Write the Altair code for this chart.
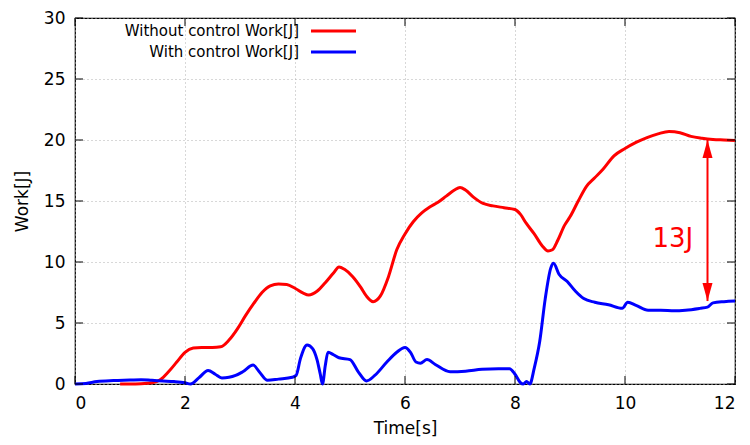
import altair as alt
import pandas as pd

# ---- data ----
red_name = "Without control Work[J]"
blue_name = "With control Work[J]"

red_t = [0.82, 1.0, 1.2, 1.4, 1.55, 1.7, 1.85, 2.0, 2.15, 2.3, 2.5, 2.65, 2.8, 2.95, 3.1, 3.25,
         3.4, 3.55, 3.7, 3.85, 4.0, 4.15, 4.25, 4.4, 4.55, 4.7, 4.8, 4.9, 5.05, 5.2, 5.3, 5.42,
         5.55, 5.7, 5.85, 6.0, 6.15, 6.3, 6.45, 6.6, 6.75, 6.9, 7.0, 7.1, 7.25, 7.42, 7.6, 7.8,
         8.0, 8.1, 8.2, 8.35, 8.5, 8.6, 8.68, 8.78, 8.9, 9.0, 9.15, 9.3, 9.45, 9.6, 9.8, 10.0,
         10.2, 10.4, 10.6, 10.8, 11.0, 11.2, 11.4, 11.6, 11.8, 12.0]
red_v = [0.0, 0.0, 0.02, 0.1, 0.35, 1.0, 1.8, 2.6, 2.95, 3.0, 3.0, 3.05, 3.6, 4.5, 5.6, 6.6,
         7.5, 8.05, 8.2, 8.15, 7.85, 7.45, 7.3, 7.6, 8.3, 9.1, 9.6, 9.4, 8.8, 7.9, 7.2, 6.75,
         7.2, 8.8, 11.0, 12.3, 13.3, 14.0, 14.5, 14.9, 15.4, 15.9, 16.1, 15.9, 15.3, 14.8, 14.6, 14.45,
         14.3, 13.9, 13.2, 12.3, 11.3, 10.9, 11.0, 11.8, 13.0, 13.7, 15.0, 16.2, 16.9, 17.6, 18.7, 19.3,
         19.8, 20.2, 20.5, 20.7, 20.6, 20.3, 20.15, 20.05, 20.0, 19.95]

blue_t = [0.0, 0.2, 0.4, 0.7, 1.0, 1.2, 1.4, 1.6, 1.8, 2.0, 2.1, 2.25, 2.42, 2.55, 2.67, 2.8,
          2.92, 3.05, 3.24, 3.35, 3.5, 3.7, 3.95, 4.02, 4.1, 4.22, 4.32, 4.4, 4.46, 4.5, 4.55, 4.6,
          4.7, 4.8, 5.0, 5.15, 5.3, 5.45, 5.67, 5.85, 6.0, 6.1, 6.2, 6.28, 6.4, 6.55, 6.82, 7.1,
          7.4, 7.7, 7.9, 8.0, 8.1, 8.15, 8.21, 8.27, 8.35, 8.45, 8.55, 8.65, 8.7, 8.8, 8.95, 9.1,
          9.25, 9.45, 9.7, 9.95, 10.05, 10.2, 10.42, 10.65, 10.9, 11.1, 11.36, 11.5, 11.6, 11.8, 12.0]
blue_v = [0.0, 0.05, 0.2, 0.28, 0.32, 0.35, 0.3, 0.25, 0.2, 0.1, 0.0, 0.5, 1.1, 0.8, 0.5, 0.55,
          0.7, 1.0, 1.55, 1.0, 0.3, 0.4, 0.55, 0.7, 2.1, 3.2, 2.9, 2.0, 0.8, 0.0, 1.5, 2.6,
          2.4, 2.15, 2.0, 1.0, 0.25, 0.7, 1.8, 2.6, 3.0, 2.6, 1.8, 1.7, 2.0, 1.6, 1.0, 1.05,
          1.2, 1.25, 1.25, 0.8, 0.1, 0.0, 0.2, 0.0, 1.3, 3.5, 7.0, 9.5, 9.9, 9.0, 8.4, 7.6,
          7.0, 6.7, 6.5, 6.2, 6.7, 6.45, 6.05, 6.05, 6.0, 6.05, 6.2, 6.3, 6.65, 6.75, 6.8]

x_ticks = [0, 2, 4, 6, 8, 10, 12]
y_ticks = [0, 5, 10, 15, 20, 25, 30]

arrow_t = [11.5]
arrow_top = [20.0]
arrow_bottom = [6.8]
note_text = ["13J"]
note_t = [10.87]
note_v = [11.9]

FONT = "DejaVu Sans"
W, H = 660, 366

lines_df = pd.concat([
    pd.DataFrame({"t": red_t, "v": red_v, "series": red_name, "order": 0}),
    pd.DataFrame({"t": blue_t, "v": blue_v, "series": blue_name, "order": 1}),
])

xs = alt.Scale(domain=[0, 12], nice=False, zero=False)
ys = alt.Scale(domain=[0, 30], nice=False)
xaxis = alt.Axis(values=x_ticks, grid=True, ticks=False, domain=False,
                 labelPadding=11, titlePadding=9, format="d")
yaxis = alt.Axis(values=y_ticks, grid=True, ticks=False, domain=False,
                 labelPadding=10, titlePadding=12, format="d")


def X(field):
    return alt.X(field, type="quantitative", scale=xs, title="Time[s]", axis=xaxis)


def Y(field):
    return alt.Y(field, type="quantitative", scale=ys, title="Work[J]", axis=yaxis)


color = alt.Color("series:N",
                  scale=alt.Scale(domain=[red_name, blue_name], range=["#ff0000", "#0000ff"]),
                  legend=None)

lines = alt.Chart(lines_df).mark_line(strokeWidth=3, interpolate="monotone").encode(
    x=X("t"), y=Y("v"), color=color, detail="series:N", order="order:Q",
)

xt_df = pd.DataFrame({"t": x_ticks})
yt_df = pd.DataFrame({"v": y_ticks})

tick_bottom = alt.Chart(xt_df).mark_rule(color="black", strokeWidth=1).encode(
    x=X("t"), y=alt.value(H), y2=alt.value(H - 8))
tick_top = alt.Chart(xt_df).mark_rule(color="black", strokeWidth=1).encode(
    x=X("t"), y=alt.value(0), y2=alt.value(8))
tick_left = alt.Chart(yt_df).mark_rule(color="black", strokeWidth=1).encode(
    y=Y("v"), x=alt.value(0), x2=alt.value(8))
tick_right = alt.Chart(yt_df).mark_rule(color="black", strokeWidth=1).encode(
    y=Y("v"), x=alt.value(W), x2=alt.value(W - 8))

arrow_df = pd.DataFrame({"t": arrow_t, "top": arrow_top, "bottom": arrow_bottom})
arrow_line = alt.Chart(arrow_df).mark_rule(color="#ff0000", strokeWidth=2).encode(
    x=X("t"), y=Y("top"), y2="bottom:Q")
head_up = alt.Chart(arrow_df).mark_point(
    shape="M0,0 L-1,3.6 L1,3.6 Z", size=100, filled=True, color="#ff0000", opacity=1).encode(
    x=X("t"), y=Y("top"))
head_down = alt.Chart(arrow_df).mark_point(
    shape="M0,0 L-1,-3.6 L1,-3.6 Z", size=100, filled=True, color="#ff0000", opacity=1).encode(
    x=X("t"), y=Y("bottom"))

note_df = pd.DataFrame({"t": note_t, "v": note_v, "label": note_text})
note = alt.Chart(note_df).mark_text(font=FONT, fontSize=26, color="#ff0000",
                                    align="center", baseline="middle").encode(
    x=X("t"), y=Y("v"), text="label:N")

# gnuplot-style key: text then line sample
leg_red_df = pd.DataFrame({"label": [red_name]})
leg_blue_df = pd.DataFrame({"label": [blue_name]})
leg_text_red = alt.Chart(leg_red_df).mark_text(font=FONT, fontSize=15, align="right",
                                               baseline="middle", color="black").encode(
    x=alt.value(224), y=alt.value(13), text="label:N")
leg_text_blue = alt.Chart(leg_blue_df).mark_text(font=FONT, fontSize=15, align="right",
                                                 baseline="middle", color="black").encode(
    x=alt.value(224), y=alt.value(34), text="label:N")
leg_line_red = alt.Chart(leg_red_df).mark_rule(color="#ff0000", strokeWidth=3).encode(
    x=alt.value(236), x2=alt.value(281), y=alt.value(13))
leg_line_blue = alt.Chart(leg_blue_df).mark_rule(color="#0000ff", strokeWidth=3).encode(
    x=alt.value(236), x2=alt.value(281), y=alt.value(34))

chart = alt.layer(
    lines, tick_bottom, tick_top, tick_left, tick_right,
    arrow_line, head_up, head_down, note,
    leg_text_red, leg_text_blue, leg_line_red, leg_line_blue,
).properties(
    width=W, height=H,
    autosize=alt.AutoSizeParams(type="none"),
    padding={"left": 67, "top": 10, "right": 7, "bottom": 61},
).configure_view(
    stroke="black", strokeWidth=1.2
).configure_axis(
    labelFont=FONT, labelFontSize=17, labelColor="black",
    titleFont=FONT, titleFontSize=17, titleFontWeight="normal", titleColor="black",
    gridColor="#b0b0b0", gridDash=[1, 3], gridWidth=1, gridOpacity=1,
)

chart.save("out.html", embed_options={"renderer": "svg", "actions": False})
